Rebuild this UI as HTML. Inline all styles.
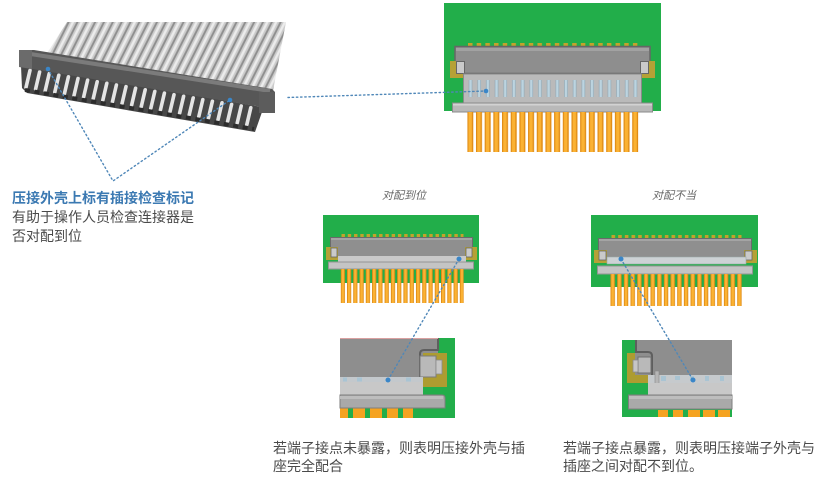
<!DOCTYPE html>
<html><head><meta charset="utf-8">
<style>
html,body{margin:0;padding:0;background:#fff;}
body{width:830px;height:490px;position:relative;overflow:hidden;font-family:"Liberation Sans","Noto Sans CJK SC",sans-serif;}
svg{position:absolute;left:0;top:0;}
.t{position:absolute;white-space:nowrap;font-size:14px;}
.h{color:#3b79b2;font-weight:bold;line-height:19px;}
.b{color:#4a4a4a;line-height:19px;}
.c{color:#4a4a4a;line-height:18px;}
.lab{position:absolute;font-size:11px;color:#666;font-style:italic;white-space:nowrap;line-height:13px;}
</style></head><body>
<svg width="830" height="490" viewBox="0 0 830 490">
<defs>
 <clipPath id="cab"><polygon points="67,22 286,22 272,96 44,58"/></clipPath>
 <pattern id="cabP" patternUnits="userSpaceOnUse" x="0" y="0" width="7.9" height="20" patternTransform="rotate(26.6)">
  <rect width="7.9" height="20" fill="#8e8e8e"/>
  <rect x="1.1" width="6" height="20" fill="#cbcbcb"/>
  <rect x="2.8" width="2.4" height="20" fill="#ececec"/>
 </pattern>
 <pattern id="pinA" patternUnits="userSpaceOnUse" x="467.3" y="0" width="8.68" height="490">
  <rect width="6" height="490" fill="#e08c16"/><rect x="1.2" width="3.4" height="490" fill="#fbb233"/>
 </pattern>
 <pattern id="padA" patternUnits="userSpaceOnUse" x="468" y="0" width="8.68" height="490">
  <rect width="4.5" height="490" fill="#c4a22c"/>
 </pattern>
 <pattern id="slotA" patternUnits="userSpaceOnUse" x="468.5" y="0" width="8.68" height="490">
  <rect x="0.5" y="0" width="3" height="490" fill="#bcd4e0" stroke="#8ea6b4" stroke-width="0.6"/>
 </pattern>
 <pattern id="pinB" patternUnits="userSpaceOnUse" x="340.7" y="0" width="6.27" height="490">
  <rect width="4.2" height="490" fill="#e08c16"/><rect x="0.9" width="2.4" height="490" fill="#fbb233"/>
 </pattern>
 <pattern id="padB" patternUnits="userSpaceOnUse" x="341.5" y="0" width="6.27" height="490">
  <rect width="3.4" height="490" fill="#c4a22c"/>
 </pattern>
 <pattern id="pinC" patternUnits="userSpaceOnUse" x="610.5" y="0" width="6.67" height="490">
  <rect width="4.4" height="490" fill="#e08c16"/><rect x="0.9" width="2.6" height="490" fill="#fbb233"/>
 </pattern>
 <pattern id="padC" patternUnits="userSpaceOnUse" x="611.5" y="0" width="6.67" height="490">
  <rect width="3.6" height="490" fill="#c4a22c"/>
 </pattern>
</defs>

<!-- ===== Cable connector (top-left) ===== -->
<rect x="0" y="0" width="300" height="140" fill="url(#cabP)" clip-path="url(#cab)"/>
<!-- teeth -->
<polygon points="21,66 262,107 262,112 255,132 27,93 22,88" fill="#474747"/>
<g stroke="#e4e4e4" stroke-width="3.6" stroke-linecap="round">
<line x1="30" y1="70.4" x2="26" y2="87.4"/>
<line x1="39.6" y1="72" x2="35.6" y2="89"/>
<line x1="49.2" y1="73.6" x2="45.2" y2="90.6"/>
<line x1="58.8" y1="75.2" x2="54.8" y2="92.2"/>
<line x1="68.4" y1="76.8" x2="64.4" y2="93.8"/>
<line x1="78" y1="78.5" x2="74" y2="95.5"/>
<line x1="87.6" y1="80.1" x2="83.6" y2="97.1"/>
<line x1="97.2" y1="81.7" x2="93.2" y2="98.7"/>
<line x1="106.8" y1="83.3" x2="102.8" y2="100.3"/>
<line x1="116.4" y1="85" x2="112.4" y2="102"/>
<line x1="126" y1="86.6" x2="122" y2="103.6"/>
<line x1="135.6" y1="88.2" x2="131.6" y2="105.2"/>
<line x1="145.2" y1="89.8" x2="141.2" y2="106.8"/>
<line x1="154.8" y1="91.4" x2="150.8" y2="108.4"/>
<line x1="164.4" y1="93.1" x2="160.4" y2="110.1"/>
<line x1="174" y1="94.7" x2="170" y2="111.7"/>
<line x1="183.6" y1="96.3" x2="179.6" y2="113.3"/>
<line x1="193.2" y1="97.9" x2="189.2" y2="114.9"/>
<line x1="202.8" y1="99.6" x2="198.8" y2="116.6"/>
<line x1="212.4" y1="101.2" x2="208.4" y2="118.2"/>
<line x1="222" y1="102.8" x2="218" y2="119.8"/>
<line x1="231.6" y1="104.4" x2="227.6" y2="121.4"/>
<line x1="241.2" y1="106" x2="237.2" y2="123"/>
<line x1="250.8" y1="107.7" x2="246.8" y2="124.7"/>
</g>
<polyline points="25,90 254,129" stroke="#2c2c2c" stroke-width="4" stroke-dasharray="5 4.6" fill="none"/>
<!-- housing band -->
<polygon points="19,50 34,50 272,89 275,92 275,112 262,112 262,107 20,67" fill="#575757"/>
<polyline points="24,53 270,91" stroke="#7b7b7b" stroke-width="4" fill="none"/>
<polygon points="19,50 32,50 32,69 19,67" fill="#6b6b6b"/>
<rect x="259" y="92" width="16" height="21" fill="#5c5c5c"/>

<!-- ===== Top-right PCB ===== -->
<rect x="444" y="3" width="217" height="108" fill="#22ae4a"/>
<rect x="467.5" y="43" width="170" height="4" fill="url(#padA)"/>
<rect x="455" y="46.5" width="195" height="27" fill="#8e8e8e" stroke="#666" stroke-width="1.5"/>
<rect x="456" y="48" width="193" height="3" fill="#a2a2a2"/>
<rect x="450" y="61" width="14" height="17" fill="#b5a136"/>
<rect x="456.5" y="61.5" width="8" height="12" fill="#cacaca" stroke="#666" stroke-width="1"/>
<rect x="641" y="61" width="14" height="17" fill="#b5a136"/>
<rect x="640.5" y="61.5" width="8" height="12" fill="#cacaca" stroke="#666" stroke-width="1"/>
<rect x="463.5" y="74" width="178" height="29" fill="#bababa" stroke="#8a8a8a" stroke-width="1"/>
<rect x="466" y="80" width="174" height="17" fill="url(#slotA)"/>
<rect x="452.5" y="103" width="200" height="9" fill="#b9b9b9" stroke="#8a8a8a" stroke-width="1"/>
<rect x="453" y="103.5" width="199" height="2" fill="#d2d2d2"/>
<rect x="467.3" y="112" width="171" height="40" fill="url(#pinA)"/>

<!-- ===== Middle-left PCB ===== -->
<rect x="323" y="215" width="156" height="68" fill="#22ae4a"/>
<rect x="341.5" y="234" width="122" height="3" fill="url(#padB)"/>
<rect x="330.5" y="237.5" width="142" height="19" fill="#8f8f8f" stroke="#6a6a6a" stroke-width="1"/>
<rect x="331" y="238" width="141" height="2" fill="#a4a4a4"/>
<rect x="326" y="247" width="12" height="13" fill="#b5a136"/>
<rect x="331" y="248" width="6" height="9" fill="#cacaca" stroke="#666" stroke-width="0.8"/>
<rect x="465" y="247" width="12" height="13" fill="#b5a136"/>
<rect x="466" y="248" width="6" height="9" fill="#cacaca" stroke="#666" stroke-width="0.8"/>
<rect x="338" y="256" width="128" height="6" fill="#c9c9c9"/>
<rect x="328.5" y="262" width="145" height="7" fill="#c4c4c4" stroke="#959595" stroke-width="1"/>
<rect x="340.7" y="269" width="123" height="34" fill="url(#pinB)"/>

<!-- ===== Middle-right PCB ===== -->
<rect x="591" y="215" width="167" height="72" fill="#22ae4a"/>
<rect x="611.5" y="235" width="130" height="3" fill="url(#padC)"/>
<rect x="598.5" y="238.5" width="153" height="19" fill="#8f8f8f" stroke="#6a6a6a" stroke-width="1"/>
<rect x="599" y="239" width="152" height="2" fill="#a4a4a4"/>
<rect x="594" y="250" width="13" height="13" fill="#b5a136"/>
<rect x="599" y="251" width="7" height="9" fill="#cacaca" stroke="#666" stroke-width="0.8"/>
<rect x="744" y="250" width="13" height="13" fill="#b5a136"/>
<rect x="745" y="251" width="7" height="9" fill="#cacaca" stroke="#666" stroke-width="0.8"/>
<rect x="607" y="257" width="139" height="7" fill="#cdd2d5" stroke="#9aa" stroke-width="0.6"/>
<rect x="597.5" y="266" width="155" height="8" fill="#c4c4c4" stroke="#959595" stroke-width="1"/>
<rect x="610.5" y="274" width="133" height="32" fill="url(#pinC)"/>

<!-- ===== Bottom-left detail ===== -->
<rect x="340" y="338" width="115" height="80" fill="#22ae4a"/>
<rect x="340" y="338" width="98" height="39" fill="#8e8e8e"/>
<path d="M438,338 L438,350 L424,350 Q420,350 420,354 L420,377" fill="none" stroke="#5e5e5e" stroke-width="2"/>
<rect x="423" y="353" width="24" height="34" fill="#ad9c30"/>
<rect x="420" y="356" width="16" height="21" fill="#b9b9b9" stroke="#7a7a7a" stroke-width="1"/>
<rect x="436" y="360" width="6" height="14" fill="#c6c6c6" stroke="#8a8a8a" stroke-width="0.8"/>
<rect x="340" y="377" width="83" height="5" fill="#c3c8cc"/>
<rect x="343" y="377.5" width="4" height="4" fill="#a9c4d3"/>
<rect x="357" y="377.5" width="5" height="4" fill="#a9c4d3"/>
<rect x="406" y="377.5" width="5" height="4" fill="#a9c4d3"/>
<rect x="340" y="382" width="83" height="13" fill="#c8c8c8"/>
<path d="M340,395 L442,395 Q445,395 445,398 L445,408 L340,408 Z" fill="#a9a9a9" stroke="#7e7e7e" stroke-width="1"/>
<rect x="340" y="396" width="103" height="3" fill="#bdbdbd"/>
<rect x="340" y="408.5" width="8" height="9.5" fill="#f5a321"/>
<rect x="353" y="408.5" width="12" height="9.5" fill="#f5a321"/>
<rect x="370" y="408.5" width="12" height="9.5" fill="#f5a321"/>
<rect x="387" y="408.5" width="11" height="9.5" fill="#f5a321"/>
<rect x="403" y="408.5" width="10" height="9.5" fill="#f5a321"/>
<line x1="340" y1="338.5" x2="438" y2="338.5" stroke="#d9a0a0" stroke-width="1"/>

<!-- ===== Bottom-right detail ===== -->
<rect x="622" y="340" width="110" height="77" fill="#22ae4a"/>
<rect x="627" y="353" width="21" height="30" fill="#ad9c30"/>
<rect x="635" y="340" width="97" height="35" fill="#8e8e8e"/>
<path d="M636,340 L636,352 L648,352 Q652,352 652,356 L652,375" fill="none" stroke="#5e5e5e" stroke-width="2"/>
<rect x="638" y="357" width="13" height="16" fill="#b9b9b9" stroke="#6e6e6e" stroke-width="1"/>
<rect x="633" y="360" width="5" height="12" fill="#c6c6c6" stroke="#8a8a8a" stroke-width="0.8"/>
<rect x="648" y="375" width="84" height="8" fill="#c6cacd"/>
<rect x="655" y="371" width="4" height="14" fill="#b6b6b6" stroke="#888" stroke-width="0.6"/>
<rect x="661" y="376" width="5" height="5" fill="#a9c4d3"/>
<rect x="675" y="376" width="5" height="4" fill="#a9c4d3"/>
<rect x="690" y="376" width="4" height="5" fill="#a9c4d3"/>
<rect x="705" y="376" width="4" height="5" fill="#a9c4d3"/>
<rect x="720" y="376" width="4" height="5" fill="#a9c4d3"/>
<rect x="648" y="383" width="84" height="12" fill="#c8c8c8"/>
<rect x="628.5" y="395" width="103.5" height="14" fill="#a9a9a9" stroke="#7e7e7e" stroke-width="1"/>
<rect x="629" y="396" width="103" height="3" fill="#bdbdbd"/>
<rect x="658" y="410" width="10" height="7" fill="#f5a321"/>
<rect x="673" y="410" width="10" height="7" fill="#f5a321"/>
<rect x="688" y="410" width="12" height="7" fill="#f5a321"/>
<rect x="703" y="410" width="12" height="7" fill="#f5a321"/>
<rect x="718" y="410" width="12" height="7" fill="#f5a321"/>

<!-- ===== Dotted leader lines ===== -->
<g stroke="#4f87b8" stroke-width="1.4" stroke-dasharray="1.4 2.8" fill="none" stroke-linecap="round">
 <polyline points="48,69 113,181 230,100"/>
 <line x1="288" y1="97.5" x2="486" y2="91"/>
 <line x1="459" y1="259" x2="388" y2="380"/>
 <line x1="621" y1="259" x2="693" y2="380"/>
</g>
<g fill="#3a86c8">
 <circle cx="48" cy="69" r="2.3"/>
 <circle cx="230" cy="100" r="2.3"/>
 <circle cx="486" cy="91" r="2.3"/>
 <circle cx="459" cy="259" r="2.5"/>
 <circle cx="621" cy="259" r="2.5"/>
 <circle cx="388" cy="380" r="2.5"/>
 <circle cx="693" cy="380" r="2.5"/>
</g>
</svg>

<div class="t h" style="left:12px;top:189px;">压接外壳上标有插接检查标记</div>
<div class="t b" style="left:12px;top:208px;">有助于操作人员检查连接器是</div>
<div class="t b" style="left:12px;top:227px;">否对配到位</div>

<div class="lab" style="left:382px;top:190px;">对配到位</div>
<div class="lab" style="left:652px;top:190px;">对配不当</div>

<div class="t c" style="left:273px;top:439px;">若端子接点未暴露，则表明压接外壳与插<br>座完全配合</div>
<div class="t c" style="left:563px;top:439px;">若端子接点暴露，则表明压接端子外壳与<br>插座之间对配不到位。</div>
</body></html>
